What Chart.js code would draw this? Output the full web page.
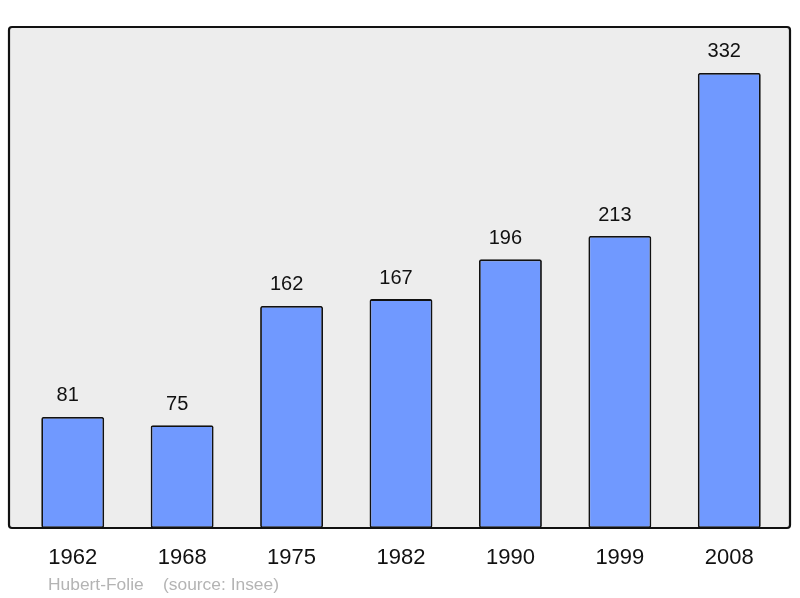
<!DOCTYPE html>
<html>
<head>
<meta charset="utf-8">
<script src="https://cdn.jsdelivr.net/npm/chart.js@4/dist/chart.umd.min.js"></script>
<style>
  body { margin: 0; background: #fff; }
  #wrap { width: 800px; height: 598px; }
</style>
</head>
<body>
<div id="wrap"><canvas id="chart" width="800" height="598"></canvas></div>
<script>
const years = ["1962", "1968", "1975", "1982", "1990", "1999", "2008"];
const population = [81, 75, 162, 167, 196, 213, 332];
const place = "Hubert-Folie";
const source = "(source: Insee)";

//background box, value labels and footer
const decor = {
  id: "decor",
  beforeDraw(c) {
    const a = c.chartArea, ctx = c.ctx;
    ctx.save();
    ctx.beginPath();
    ctx.roundRect(a.left - 9, a.top, a.right - a.left + 15, a.bottom - a.top, 3);
    ctx.fillStyle = "#ededed";
    ctx.fill();
    ctx.lineWidth = 2.2;
    ctx.strokeStyle = "#111";
    ctx.stroke();
    ctx.restore();
  },
  afterDatasetsDraw(c) {
    const ctx = c.ctx;
    ctx.save();
    ctx.font = "20px 'Liberation Sans', Arial, sans-serif";
    ctx.fillStyle = "#111";
    ctx.textAlign = "center";
    ctx.textBaseline = "middle";
    c.getDatasetMeta(0).data.forEach((bar, i) => {
      ctx.fillText(population[i], bar.x - 5, bar.y - 21);
    });
    ctx.font = "17.4px 'Liberation Sans', Arial, sans-serif";
    ctx.fillStyle = "#b4b4b4";
    ctx.textAlign = "left";
    ctx.fillText(place, 48, 585);
    ctx.fillText(source, 163, 585);
    ctx.restore();
  },
};

new Chart(document.querySelector("#chart"), {
  type: "bar",
  data: {
    labels: years,
    datasets: [
      {
        data: population,
        backgroundColor: "#7099ff",
        borderColor: "#111",
        borderWidth: 1.8,
        borderRadius: 2,
        borderSkipped: false,
        barPercentage: 0.575,
        categoryPercentage: 1,
      },
    ],
  },
  options: {
    responsive: false,
    animation: false,
    layout: { padding: { left: 18, right: 16, top: 27, bottom: 0 } },
    plugins: { legend: { display: false }, tooltip: { enabled: false } },
    scales: {
      x: {
        grid: { display: false, drawTicks: false },
        border: { display: false },
        ticks: {
          color: "#111",
          padding: 17,
          font: { size: 22, family: "'Liberation Sans', Arial, sans-serif" },
        },
        afterFit(axis) {
          axis.height = 70;
        },
      },
      y: { display: false, min: 0, max: 365.5 },
    },
  },
  plugins: [decor],
});
</script>
</body>
</html>
